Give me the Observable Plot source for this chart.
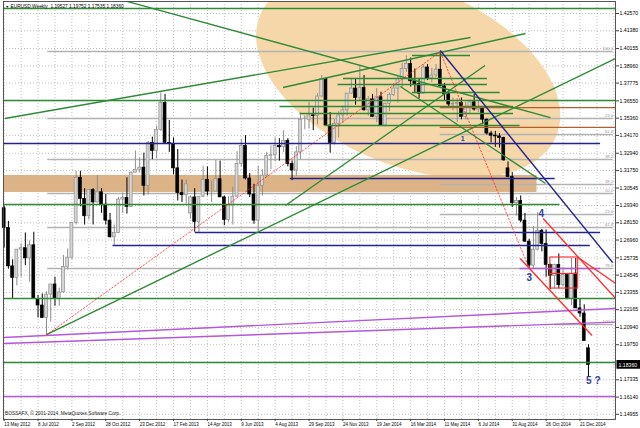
<!DOCTYPE html>
<html><head><meta charset="utf-8">
<script src="https://cdn.jsdelivr.net/npm/d3@7"></script>
<script src="https://cdn.jsdelivr.net/npm/@observablehq/plot@0.6"></script>
<style>
html,body{margin:0;padding:0;background:#fff;}
#chart svg{display:block;}
</style></head><body><div id="chart"></div>
<script>
// ---------- DATA ----------
const title = "EURUSD,Weekly  1.19527 1.19752 1.17535 1.18360";
const copyright = "BOSSAFX, \u00a9 2001-2014, MetaQuotes Software Corp.";
const firstWeek = "2012-05-13";   // weekly bars, Sunday starts
const opens = [1.2915,1.2780,1.2515,1.2435,1.2630,1.2640,1.2570,1.2660,1.2290,1.2245,1.2160,1.2320,1.2390,1.2290,1.2335,1.2510,1.2575,1.2815,1.3125,1.2980,1.2860,1.3040,1.2955,1.3025,1.2940,1.2830,1.2715,1.2745,1.2975,1.2985,1.2925,1.3160,1.3180,1.3195,
1.3070,1.3365,1.3310,1.3455,1.3640,1.3365,1.3360,1.3190,1.3020,1.3005,1.2880,1.2990,1.2820,1.2995,1.3110,1.3030,1.3030,1.3115,1.2990,1.2835,1.2935,1.2995,1.3220,1.3345,1.3120,1.3010,1.2830,1.3070,1.3140,1.3275,1.3280,1.3345,1.3335,1.3380,1.3220,1.3175,1.3300,1.3525,1.3525,1.3555,1.3550,1.3685,1.3805,1.3485,1.3365,1.3495,1.3555,1.3590,1.3705,1.3740,1.3675,1.3745,
1.3590,1.3665,1.3545,1.3680,1.3485,1.3635,1.3695,1.3740,1.3805,1.3875,1.3910,1.3790,1.3770,1.3705,1.3885,1.3810,1.3830,1.3870,1.3755,1.3700,1.3630,1.3635,1.3640,1.3545,1.3605,1.3645,1.3595,1.3605,1.3525,1.3430,1.3415,1.3410,1.3400,1.3190,1.3130,1.2950,1.2965,1.2830,1.2685,1.2520,1.2630,1.2760,1.2670,1.2525,1.2450,1.2525,1.2385,1.2455,1.2290,1.2465,1.2225,1.2190,
1.1950];
const highs = [1.2930,1.2825,1.2560,1.2630,1.2670,1.2745,1.2690,1.2750,1.2315,1.2325,1.2340,1.2390,1.2440,1.2365,1.2590,1.2635,1.2815,1.3170,1.3170,1.3050,1.3040,1.3050,1.3140,1.3050,1.3010,1.2880,1.2800,1.2990,1.3020,1.3125,1.3165,1.3310,1.3260,1.3295,
1.3375,1.3405,1.3480,1.3710,1.3700,1.3520,1.3400,1.3320,1.3110,1.3110,1.3000,1.3050,1.2960,1.3205,1.3200,1.3100,1.3245,1.3240,1.3000,1.2995,1.3060,1.3305,1.3390,1.3415,1.3155,1.3080,1.3205,1.3180,1.3300,1.3345,1.3400,1.3395,1.3450,1.3395,1.3240,1.3340,1.3570,1.3550,1.3645,1.3605,1.3705,1.3830,1.3810,1.3575,1.3525,1.3580,1.3620,1.3705,1.3810,1.3810,1.3895,1.3830,
1.3685,1.3700,1.3740,1.3715,1.3640,1.3710,1.3775,1.3825,1.3915,1.3965,1.3950,1.3875,1.3810,1.3905,1.3905,1.3880,1.3905,1.3995,1.3775,1.3730,1.3675,1.3670,1.3675,1.3645,1.3660,1.3700,1.3650,1.3615,1.3530,1.3445,1.3445,1.3430,1.3405,1.3235,1.3160,1.2990,1.3000,1.2880,1.2700,1.2790,1.2885,1.2770,1.2765,1.2530,1.2530,1.2600,1.2505,1.2455,1.2570,1.2570,1.2290,1.2250,
1.1975];
const lows = [1.2642,1.2495,1.2288,1.2380,1.2440,1.2520,1.2405,1.2290,1.2160,1.2160,1.2042,1.2130,1.2240,1.2240,1.2330,1.2490,1.2560,1.2800,1.2925,1.2800,1.2835,1.2800,1.2950,1.2880,1.2800,1.2710,1.2660,1.2740,1.2880,1.2875,1.2920,1.3160,1.3160,1.3000,
1.3005,1.3250,1.3255,1.3445,1.3375,1.3300,1.3145,1.2965,1.2955,1.2945,1.2840,1.2750,1.2745,1.2990,1.3000,1.2955,1.3030,1.2990,1.2795,1.2820,1.2800,1.2990,1.3200,1.3110,1.2990,1.2805,1.2755,1.3000,1.3130,1.3180,1.3235,1.3240,1.3300,1.3200,1.3105,1.3135,1.3250,1.3455,1.3460,1.3450,1.3490,1.3680,1.3480,1.3295,1.3350,1.3400,1.3500,1.3550,1.3700,1.3625,1.3650,1.3585,
1.3550,1.3540,1.3505,1.3480,1.3475,1.3580,1.3685,1.3640,1.3740,1.3850,1.3750,1.3705,1.3670,1.3700,1.3795,1.3780,1.3815,1.3755,1.3650,1.3615,1.3585,1.3505,1.3525,1.3525,1.3570,1.3585,1.3575,1.3490,1.3420,1.3365,1.3335,1.3330,1.3240,1.3125,1.2920,1.2860,1.2815,1.2680,1.2500,1.2500,1.2620,1.2615,1.2440,1.2355,1.2360,1.2360,1.2375,1.2285,1.2245,1.2225,1.2165,1.2000,
1.1754];
const closes = [1.2780,1.2515,1.2435,1.2630,1.2640,1.2570,1.2660,1.2290,1.2245,1.2160,1.2320,1.2390,1.2290,1.2335,1.2510,1.2575,1.2815,1.3125,1.2980,1.2860,1.3040,1.2955,1.3025,1.2940,1.2830,1.2715,1.2745,1.2975,1.2985,1.2925,1.3160,1.3180,1.3195,1.3070,
1.3365,1.3310,1.3455,1.3640,1.3365,1.3360,1.3190,1.3020,1.3005,1.3080,1.2990,1.2820,1.2995,1.3110,1.3030,1.3030,1.3115,1.2990,1.2835,1.2935,1.2995,1.3220,1.3345,1.3120,1.3010,1.2830,1.3070,1.3140,1.3275,1.3280,1.3345,1.3335,1.3380,1.3220,1.3175,1.3300,1.3525,1.3525,1.3555,1.3550,1.3685,1.3805,1.3485,1.3365,1.3495,1.3555,1.3590,1.3705,1.3740,1.3675,1.3745,1.3590,
1.3665,1.3545,1.3680,1.3485,1.3635,1.3695,1.3740,1.3805,1.3875,1.3910,1.3790,1.3770,1.3705,1.3885,1.3810,1.3830,1.3870,1.3755,1.3700,1.3630,1.3635,1.3640,1.3545,1.3605,1.3645,1.3595,1.3605,1.3525,1.3430,1.3415,1.3410,1.3400,1.3245,1.3130,1.2950,1.2965,1.2830,1.2685,1.2520,1.2630,1.2760,1.2670,1.2525,1.2450,1.2525,1.2385,1.2455,1.2290,1.2465,1.2225,1.2190,1.2000,
1.1836];

const priceTicks = [1.42570,1.41380,1.40155,1.38960,1.37775,1.36550,1.35360,1.34170,1.32940,1.31750,1.30545,1.29340,1.28150,1.26960,1.25735,1.24545,1.23355,1.22165,1.20940,1.19750,1.18560,1.17335,1.16140,1.14955];
const dateTicks = ["2012-05-13","2012-07-08","2012-09-02","2012-10-28","2012-12-23","2013-02-17","2013-04-14","2013-06-09","2013-08-04","2013-09-29","2013-11-24","2014-01-19","2014-03-16","2014-05-11","2014-07-06","2014-08-31","2014-10-26","2014-12-21"];

// drawn objects (date / price anchors)
const greenLevels = [1.4291, 1.3658, 1.2293, 1.1852];
const purpleLevels = [1.1618];
const greenSegments = [
  ["2012-04-01","2014-11-18",1.2941],
  ["2014-03-19","2014-06-23",1.3968],
  ["2013-11-25","2014-07-21",1.3809],
  ["2013-11-16","2014-07-21",1.3768],
  ["2014-03-19","2014-08-11",1.3713],
  ["2013-08-12","2014-09-02",1.3616],
  ["2013-09-14","2014-09-02",1.3568],
  ["2013-10-26","2014-09-13",1.3485]];
const navySegments = [
  ["2012-04-01","2015-01-24",1.3361],
  ["2013-03-25","2015-01-24",1.2748],
  ["2012-11-09","2015-01-07",1.2659],
  ["2013-08-29","2014-11-10",1.3120]];
const purpleSegments = [["2014-09-13","2015-01-24",1.2500]];
const brownSegments = [["2014-05-04","2015-03-01",1.3609],["2014-05-04","2015-03-01",1.3472]];
const fibEnd = "2015-02-14";
const fibLevels = [
  ["2012-07-24",1.3995,"100.0"],["2012-07-24",1.3534,"23.6"],["2014-05-04",1.3423,"61.8"],
  ["2012-07-24",1.3251,"38.2"],["2014-05-04",1.3079,"38.2"],["2012-07-24",1.3017,"50.0"],
  ["2014-05-04",1.2872,"23.6"],["2012-07-24",1.2783,"61.8"],["2012-07-24",1.2500,"78.6"],
  ["2014-11-10",1.2114,"100.0"]];
const greenTrendlines = [
  [["2012-07-22",1.2045],["2015-02-18",1.3947]],
  [["2013-08-21",1.2934],["2014-07-17",1.3899]],
  [["2012-05-14",1.3534],["2014-06-23",1.4092]],
  [["2013-08-17",1.3747],["2014-09-22",1.4119]],
  [["2012-11-26",1.4347],["2014-11-02",1.3540]],
  [["2014-02-27",1.3754],["2014-10-25",1.3086]]];
const navyTrendlines = [[["2014-05-04",1.4002],["2015-02-13",1.2541]]];
const purpleTrendlines = [
  [["2012-05-12",1.2025],["2015-02-18",1.2225]],
  [["2012-05-12",1.1983],["2015-02-18",1.2131]]];
const redChannel = [
  [["2014-10-21",1.2845],["2015-02-18",1.2293]],
  [["2014-09-13",1.2569],["2015-01-10",1.2038]],
  [["2014-12-18",1.2576],["2015-02-18",1.2397]]];
const redBox = {from:"2014-11-02", to:"2014-12-18", low:1.2362, mid:1.2466, high:1.2576};
const zigzag = [["2012-07-22",1.2042],["2014-05-04",1.3993],["2014-09-28",1.2500]];
const supplyBand = {to:"2014-10-11", low:1.3024, high:1.3141};
const ellipse = {center:["2014-03-12",1.3830], axisA:[245.2,-0.04127], axisB:[-55.7,-0.05746]}; // [days, price]
const waveLabels = [["1","2014-06-10",1.3396],["3","2014-09-28",1.2438],["4","2014-10-18",1.2879],["5 ?","2015-01-12",1.1728]];

// ---------- BUILD ----------
const DAY = 864e5;
const D = s => new Date(s + "T00:00:00Z");
const origin = Date.UTC(2012,6,22);
const xDomain = [new Date(origin - 71.1*DAY), new Date(origin + 940.7*DAY)];
const pxDays = 1.6533; // days per pixel (layout)
const weeks = d3.utcSunday.range(D(firstWeek), D("2015-01-05"));
const candles = weeks.map((date,i)=>({date, open:opens[i], high:highs[i], low:lows[i], close:closes[i], up: closes[i] >= opens[i]}));
const half = 1.45*pxDays*DAY;

const ellPts = d3.range(0, 361, 3).map(a => {
  const t = a*Math.PI/180, c = Math.cos(t), s = Math.sin(t);
  return {x: new Date(+D(ellipse.center[0]) + (c*ellipse.axisA[0] + s*ellipse.axisB[0])*DAY),
          y: ellipse.center[1] + c*ellipse.axisA[1] + s*ellipse.axisB[1]};
});
const seg = arr => arr.map(d => ({x1:D(d[0]), x2:D(d[1]), y:d[2]}));
const lns = arr => arr.map(d => ({x1:D(d[0][0]), y1:d[0][1], x2:D(d[1][0]), y2:d[1][1]}));
const lastClose = closes[closes.length-1];
const xEnd = +xDomain[1];
const axisTicks = priceTicks.filter(v => Math.abs(v - lastClose) > 0.004); // the one under the price box is hidden

const GREEN = "#2f8a36", NAVY = "#23238f", PURPLE = "#b657d8", RED = "#ff2a2a", BROWN = "#b0602c", GRAY = "#b2b2b2";

const chart = Plot.plot({
  width: 640, height: 428,
  marginLeft: 3, marginRight: 25, marginTop: 1, marginBottom: 9,
  x: {type: "utc", domain: xDomain, axis: null},
  y: {domain: [1.14597, 1.43397], axis: null},
  style: {fontFamily: "'Liberation Sans', Arial, sans-serif", background: "#fff", color: "#000"},
  marks: [
    Plot.gridY(priceTicks, {stroke: "#8a8a8a", strokeOpacity: 0.55, strokeDasharray: "1,2"}),
    Plot.gridX(d3.utcSunday.range(D(firstWeek), xDomain[1], 4), {stroke: "#8a8a8a", strokeOpacity: 0.55, strokeDasharray: "1,2"}),
    Plot.line(ellPts, {x: "x", y: "y", fill: "#f6d7aa", stroke: "none", clip: true}),
    Plot.rect([supplyBand], {x1: () => xDomain[0], x2: d => D(d.to), y1: "low", y2: "high", fill: "#dcb386", clip: true}),
    // fib levels
    Plot.ruleY(fibLevels, {x1: d => D(d[0]), x2: D(fibEnd), y: d => d[1], stroke: GRAY, strokeWidth: 1.4, clip: true}),
    Plot.text(fibLevels, {x: D(fibEnd), y: d => d[1], text: d => d[2], textAnchor: "end", dy: -2.6, fontSize: 4.3, fill: "#9a9a9a"}),
    // candles
    Plot.ruleX(candles, {x: "date", y1: "low", y2: "high", stroke: d => d.up ? "#8e8e8e" : "#000", strokeWidth: 1}),
    Plot.rect(candles, {x1: d => new Date(+d.date - half), x2: d => new Date(+d.date + half), y1: "open", y2: "close",
      fill: d => d.up ? "#d6d6d6" : "#000", stroke: d => d.up ? "#8e8e8e" : "#000", strokeWidth: 0.7}),
    // horizontal levels
    Plot.ruleY(greenLevels, {stroke: GREEN, strokeWidth: 1.5}),
    Plot.ruleY(purpleLevels, {stroke: PURPLE, strokeWidth: 1.5}),
    Plot.ruleY(seg(greenSegments), {x1: "x1", x2: "x2", y: "y", stroke: GREEN, strokeWidth: 1.4, clip: true}),
    Plot.ruleY(seg(navySegments), {x1: "x1", x2: "x2", y: "y", stroke: NAVY, strokeWidth: 1.5, clip: true}),
    Plot.ruleY(seg(purpleSegments), {x1: "x1", x2: "x2", y: "y", stroke: PURPLE, strokeWidth: 1.5, clip: true}),
    Plot.ruleY(seg(brownSegments), {x1: "x1", x2: "x2", y: "y", stroke: BROWN, strokeWidth: 1.3, clip: true}),
    // trend lines
    Plot.link(lns(purpleTrendlines), {x1: "x1", y1: "y1", x2: "x2", y2: "y2", stroke: PURPLE, strokeWidth: 1.4, clip: true}),
    Plot.link(lns(greenTrendlines), {x1: "x1", y1: "y1", x2: "x2", y2: "y2", stroke: GREEN, strokeWidth: 1.4, clip: true}),
    Plot.link(lns(navyTrendlines), {x1: "x1", y1: "y1", x2: "x2", y2: "y2", stroke: NAVY, strokeWidth: 1.4, clip: true}),
    Plot.link(lns(redChannel), {x1: "x1", y1: "y1", x2: "x2", y2: "y2", stroke: RED, strokeWidth: 1.3, clip: true}),
    Plot.rect([redBox], {x1: d => D(d.from), x2: d => D(d.to), y1: "low", y2: "high", fill: "none", stroke: RED, strokeWidth: 1.1}),
    Plot.ruleY([redBox], {x1: d => D(d.from), x2: d => D(d.to), y: "mid", stroke: RED, strokeWidth: 1.1}),
    Plot.line(zigzag, {x: d => D(d[0]), y: d => d[1], stroke: RED, strokeWidth: 0.8, strokeDasharray: "1.5,2", clip: true}),
    // wave labels
    Plot.text(waveLabels, {x: d => D(d[1]), y: d => d[2], text: d => d[0], fill: "#2e3d9e", fontWeight: "bold",
      fontSize: d => d[0] === "1" ? 7 : 10}),
    // title & copyright
    Plot.text(["\u25BC"], {frameAnchor: "top-left", dx: 2, dy: 3.5, lineAnchor: "top", textAnchor: "start", fontSize: 3.5, fill: "#000"}),
    Plot.text([title], {frameAnchor: "top-left", dx: 7, dy: 3, lineAnchor: "top", textAnchor: "start", fontSize: 4.8, fill: "#000"}),
    Plot.text([copyright], {frameAnchor: "bottom-left", dx: 1.5, dy: -5, lineAnchor: "bottom", textAnchor: "start", fontSize: 4.8, fill: "#222"}),
    // frame & axes
    Plot.frame({stroke: "#444", strokeWidth: 0.9}),
    Plot.axisY(axisTicks, {anchor: "right", tickSize: 3, tickPadding: 1, tickFormat: d => d.toFixed(5), fontSize: 5.2, stroke: "#444"}),
    Plot.axisX(dateTicks.map(D), {anchor: "bottom", tickSize: 2, tickPadding: 1, tickFormat: d3.utcFormat("%-d %b %Y"), textAnchor: "start", fontSize: 4.5, stroke: "#444"}),
    // current price box
    Plot.rect([lastClose], {x1: () => new Date(xEnd + 1.5*pxDays*DAY), x2: () => new Date(xEnd + 25*pxDays*DAY), y1: d => d - 0.0030, y2: d => d + 0.0030, fill: "#000"}),
    Plot.text([lastClose], {x: () => new Date(xEnd + 3*pxDays*DAY), y: d => d, text: d => d.toFixed(5), textAnchor: "start", fontSize: 5.2, fill: "#fff"})
  ]
});
document.getElementById("chart").append(chart);
</script>
</body></html>
